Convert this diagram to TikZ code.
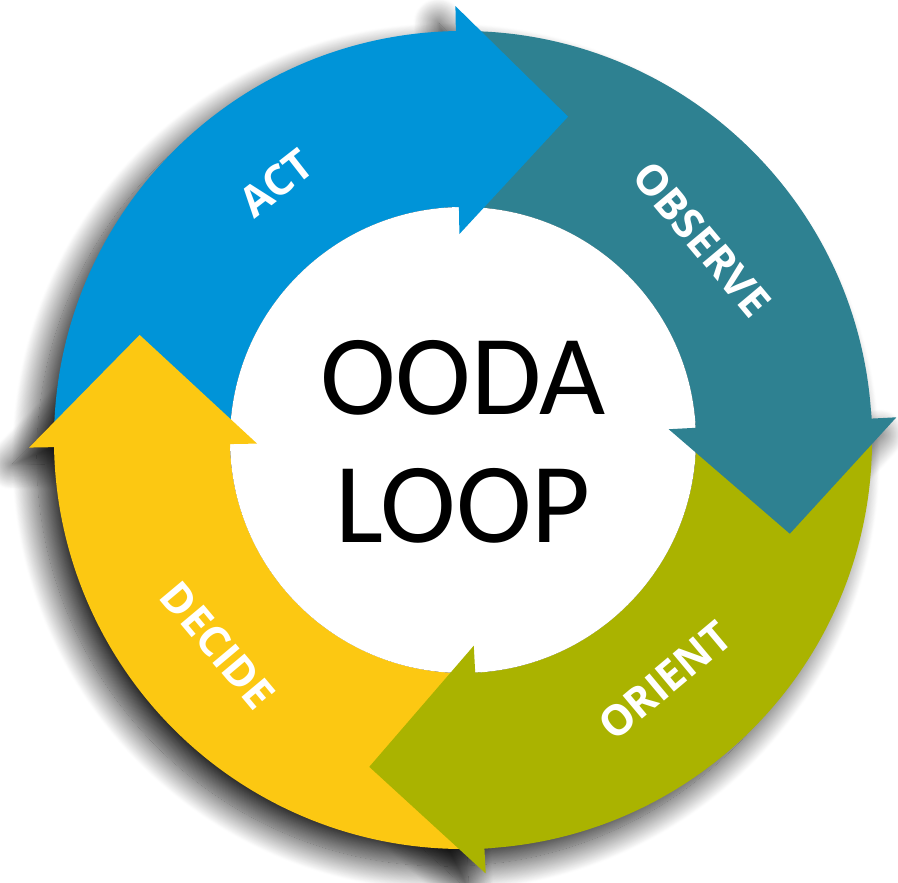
\documentclass[tikz,border=0pt]{standalone}
\usepackage{fontspec}
\setmainfont{Open Sans}
\newfontfamily\loopfont{Carlito}
\usetikzlibrary{shadows.blur}

\definecolor{actblue}{RGB}{0,148,216}
\definecolor{observeteal}{RGB}{46,129,145}
\definecolor{orientolive}{RGB}{170,179,0}
\definecolor{decideyellow}{RGB}{252,200,18}

\begin{document}
\begin{tikzpicture}[
x=0.02cm,
y=0.02cm,
drop/.style={
  blur shadow={
    shadow xshift=-0.34cm,
    shadow yshift=-0.34cm,
    shadow blur radius=0.5cm,
    shadow blur steps=30,
    shadow opacity=85
    }
  },
phase/.style={
  text=white,
  inner sep=0pt,
  font=\bfseries\fontsize{24}{24}\selectfont
  },
centre/.style={
  align=center,
  inner sep=0pt,
  font=\loopfont\fontsize{65}{73}\selectfont
  }
]
\useasboundingbox (-463,-442) rectangle (435,440);
% shadows first, so no shadow falls on a segment
\path[drop] (0,0) circle[radius=409];
\foreach \back in {91,3,-87,181}
  \path[drop] (\back:206) -- (\back:434) -- ({\back-19}:340) -- cycle;
% ring segments
\foreach \back/\prev/\col in {91/181/actblue,3/91/observeteal,-87/3/orientolive,181/273/decideyellow}
  \fill[\col] (\prev:409) arc[start angle=\prev, end angle=\back, radius=409]
    -- (\back:233) arc[start angle=\back, end angle=\prev, radius=233] -- cycle;
\fill[white] (0,0) circle[radius=233];
% arrow heads, reaching a degree back into their own segment
\foreach \back/\col in {91/actblue,3/observeteal,-87/orientolive,181/decideyellow}
  \fill[\col] (\back:206) -- (\back:233) -- ({\back+1}:233) -- ({\back+1}:409)
    -- (\back:409) -- (\back:434) -- ({\back-19}:340) -- cycle;
\node[phase, rotate=38] (act) at (126:318) {ACT};
\node[phase, rotate=-50] (observe) at (40:312) {OBSERVE};
\node[phase, rotate=40] (orient) at (-50:314) {ORIENT};
\node[phase, rotate=-50] (decide) at (220:320) {DECIDE};
\node[centre] (ooda) at (0,-2) {OODA\\LOOP};
\end{tikzpicture}
\end{document}
